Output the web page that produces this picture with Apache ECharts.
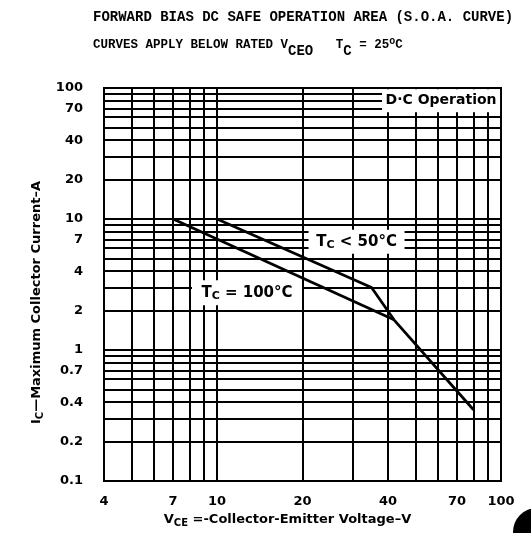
<!DOCTYPE html>
<html><head><meta charset="utf-8">
<script src="https://cdn.jsdelivr.net/npm/echarts@6/dist/echarts.min.js"></script>
<style>html,body{margin:0;padding:0;background:#fff}#c{width:531px;height:533px}</style>
</head><body><div id="c"></div>
<script>
// Tick labels shown on the axes
const xTickLabels = [4, 7, 10, 20, 40, 70, 100];
const yTickLabels = [0.1, 0.2, 0.4, 0.7, 1, 2, 4, 7, 10, 20, 40, 70, 100];
// Log grid lines
const xGridValues = [4, 5, 6, 7, 8, 9, 10, 20, 30, 40, 50, 60, 70, 80, 90, 100];
const yGridValues = [0.1, 0.2, 0.3, 0.4, 0.5, 0.6, 0.7, 0.8, 0.9, 1, 2, 3, 4, 5, 6, 7, 8, 9, 10, 20, 30, 40, 50, 60, 70, 80, 90, 100];
// Curves [VCE (V), IC (A)]
const curveTc50 = [[10, 10], [35, 3], [42, 1.7], [80, 0.35]];
const curveTc100 = [[7, 10], [42, 1.7]];
// Annotation anchors [VCE, IC] (centre of each label box)
const noteDC = [61.5, 80];
const noteTc50 = [31, 6.7];
const noteTc100 = [12.75, 2.73];

const lblFont = 'DejaVu Sans';
const chart = echarts.init(document.getElementById('c'), null, {renderer: 'canvas'});

const option = {
  animation: false,
  backgroundColor: '#fff',
  title: [
    {text: 'FORWARD BIAS DC SAFE OPERATION AREA (S.O.A. CURVE)', left: 88, top: 5,
     textStyle: {fontFamily: 'Liberation Mono', fontWeight: 'bold', fontSize: 14, color: '#000'}},
    {text: 'CURVES APPLY BELOW RATED V{s|CEO}   T{s|C} = 25{o|o}C', left: 88, top: 27,
     textStyle: {fontFamily: 'Liberation Mono', fontWeight: 'bold', fontSize: 12.5, color: '#000',
       rich: {
         s: {fontFamily: 'Liberation Mono', fontWeight: 'bold', fontSize: 14, color: '#000', padding: [12, 0, 0, 0]},
         o: {fontFamily: 'Liberation Mono', fontWeight: 'bold', fontSize: 10, color: '#000', padding: [0, 0, 8, 0]}
       }}}
  ],
  grid: {left: 104, right: 30, top: 88, bottom: 49, show: true, borderColor: '#000', borderWidth: 2},
  xAxis: {
    type: 'log', logBase: 10, min: 4, max: 100,
    name: 'V{s|CE} =-Collector-Emitter Voltage\u2013V', nameLocation: 'middle', nameGap: 31,
    nameTextStyle: {fontFamily: lblFont, fontWeight: 'bold', fontSize: 13, color: '#000', padding: [0, 30, 0, 0],
      rich: {s: {fontFamily: lblFont, fontWeight: 'bold', fontSize: 10, color: '#000', padding: [6, 0, 0, 0]}}},
    axisLine: {show: true, lineStyle: {color: '#000', width: 2}},
    axisTick: {show: false, customValues: xGridValues},
    axisLabel: {customValues: xTickLabels, margin: 14, color: '#000', fontFamily: lblFont, fontWeight: 'bold', fontSize: 13,
      formatter: v => String(v)},
    splitLine: {show: true, lineStyle: {color: '#000', width: 2}},
    minorTick: {show: false}, minorSplitLine: {show: false}
  },
  yAxis: {
    type: 'log', logBase: 10, min: 0.1, max: 100,
    name: 'I{s|C}\u2014Maximum Collector Current\u2013A', nameLocation: 'middle', nameGap: 46, nameRotate: 90,
    nameTextStyle: {fontFamily: lblFont, fontWeight: 'bold', fontSize: 13, color: '#000', padding: [0, 36, 0, 0],
      rich: {s: {fontFamily: lblFont, fontWeight: 'bold', fontSize: 10, color: '#000', padding: [6, 0, 0, 0]}}},
    axisLine: {show: true, lineStyle: {color: '#000', width: 2}},
    axisTick: {show: false, customValues: yGridValues},
    axisLabel: {customValues: yTickLabels, margin: 21, color: '#000', fontFamily: lblFont, fontWeight: 'bold', fontSize: 13,
      formatter: v => String(v)},
    splitLine: {show: true, lineStyle: {color: '#000', width: 2}},
    minorTick: {show: false}, minorSplitLine: {show: false}
  },
  series: [
    {type: 'line', data: curveTc50, symbol: 'none', z: 5, lineStyle: {color: '#000', width: 2.8}},
    {type: 'line', data: curveTc100, symbol: 'none', z: 5, lineStyle: {color: '#000', width: 2.8}}
  ]
};
chart.setOption(option);

function noteBox(anchor, text, w, h, size) {
  const p = chart.convertToPixel({gridIndex: 0}, anchor);
  return {
    type: 'group', x: p[0], y: p[1], z: 100,
    children: [
      {type: 'rect', shape: {x: -w / 2, y: -h / 2, width: w, height: h}, style: {fill: '#fff'}},
      {type: 'text', x: 0, y: 0, style: {
        text: text, x: 0, y: 0, align: 'center', verticalAlign: 'middle',
        fill: '#000', font: 'bold ' + size + 'px "' + lblFont + '"',
        rich: {
          t: {fill: '#000', font: 'bold ' + size + 'px "' + lblFont + '"'},
          s: {fill: '#000', font: 'bold 11px "' + lblFont + '"', padding: [7, 0, 0, 0]}
        }
      }}
    ]
  };
}

chart.setOption({
  graphic: [
    noteBox(noteDC, 'D\u00b7C Operation', 118, 23, 14),
    noteBox(noteTc50, '{t|T}{s|C}{t| < 50\u00b0C}', 96, 24, 15),
    noteBox(noteTc100, '{t|T}{s|C}{t| = 100\u00b0C}', 110, 25, 15),
    {type: 'circle', shape: {cx: 537, cy: 532, r: 24}, style: {fill: '#000'}, z: 100}
  ]
});
</script>
</body></html>
